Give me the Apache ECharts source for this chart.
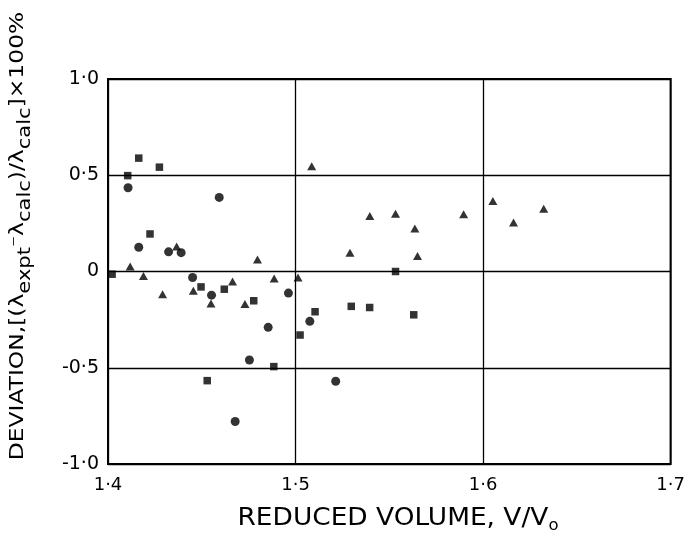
<!DOCTYPE html>
<html>
<head>
<meta charset="utf-8">
<script src="https://cdn.jsdelivr.net/npm/echarts@6/dist/echarts.min.js"></script>
<style>
  html, body { margin: 0; padding: 0; background: #fff; }
  #chart { width: 688px; height: 538px; }
</style>
</head>
<body>
<div id="chart"></div>
<script>
// reduced volume V/V0 vs deviation (%)
const circles = [
  [1.4107, 0.435], [1.4593, 0.385], [1.4164, 0.126], [1.4323, 0.102], [1.4390, 0.098],
  [1.4451, -0.031], [1.4552, -0.123], [1.4962, -0.112], [1.4854, -0.290], [1.4754, -0.460],
  [1.4678, -0.779], [1.5076, -0.259], [1.5214, -0.570]
]
const squares = [
  [1.4022, -0.014], [1.4105, 0.498], [1.4164, 0.589], [1.4274, 0.542], [1.4224, 0.195],
  [1.4496, -0.080], [1.4620, -0.092], [1.4777, -0.152], [1.4884, -0.494], [1.4529, -0.567],
  [1.5024, -0.330], [1.5104, -0.209], [1.5533, 0.000], [1.5297, -0.181], [1.5395, -0.187],
  [1.5630, -0.225]
]
const triangles = [
  [1.4118, 0.026], [1.4189, -0.023], [1.4291, -0.118], [1.4366, 0.130], [1.4455, -0.100],
  [1.4549, -0.166], [1.4664, -0.052], [1.4730, -0.169], [1.4797, 0.062], [1.4886, -0.036],
  [1.5013, -0.031], [1.5086, 0.547], [1.5290, 0.098], [1.5396, 0.288], [1.5533, 0.300],
  [1.5636, 0.224], [1.5650, 0.081], [1.5896, 0.297], [1.6052, 0.366], [1.6162, 0.254],
  [1.6323, 0.326]
]
const xTicks = [1.4, 1.5, 1.6, 1.7]
const yTicks = [-1.0, -0.5, 0, 0.5, 1.0]

const font = 'DejaVu Sans, sans-serif'

function tickLabel(v) {
  if (Math.abs(v) < 1e-9) return '0'
  return v.toFixed(1).replace('.', '·')
}

const chart = echarts.init(document.getElementById('chart'))

chart.setOption({
  backgroundColor: '#fff',
  animation: false,
  grid: {
    left: 108, right: 15, top: 79, bottom: 74,
    show: true, borderColor: '#000', borderWidth: 2, backgroundColor: 'transparent'
  },
  xAxis: {
    type: 'value',
    min: xTicks[0], max: xTicks[xTicks.length - 1], interval: 0.1,
    axisLine: { show: false },
    axisTick: { show: false },
    splitLine: { lineStyle: { color: '#000', width: 1.3 } },
    axisLabel: { color: '#000', fontFamily: font, fontSize: 18, margin: 12, formatter: tickLabel }
  },
  yAxis: {
    type: 'value',
    min: yTicks[0], max: yTicks[yTicks.length - 1], interval: 0.5,
    axisLine: { show: false },
    axisTick: { show: false },
    splitLine: { lineStyle: { color: '#000', width: 1.3 } },
    axisLabel: { color: '#000', fontFamily: font, fontSize: 19, margin: 9, formatter: tickLabel }
  },
  graphic: [{
    // y axis title, reads bottom to top
    type: 'text',
    x: 18, y: 236,
    rotation: Math.PI / 2,
    scaleX: 1.17,
    style: {
      text: '{a|DEVIATION,[(λ}{s|expt}{p|⁻}{a|λ}{s|calc}{a|)/λ}{s|calc}{a|]×100%}',
      align: 'center',
      verticalAlign: 'middle',
      rich: {
        a: { fill: '#000', fontFamily: font, fontSize: 20 },
        s: { fill: '#000', fontFamily: font, fontSize: 18, padding: [14, 0, 0, 0] },
        p: { fill: '#000', fontFamily: font, fontSize: 18 }
      }
    }
  }, {
    // x axis title
    type: 'text',
    x: 398, y: 519,
    scaleX: 1.1,
    style: {
      text: '{a|REDUCED VOLUME, V/V}{s|o}',
      align: 'center',
      verticalAlign: 'middle',
      rich: {
        a: { fill: '#000', fontFamily: font, fontSize: 24 },
        s: { fill: '#000', fontFamily: font, fontSize: 15, padding: [14, 0, 0, 0] }
      }
    }
  }],
  series: [
    { name: 'circles', type: 'scatter', symbol: 'circle', symbolSize: 9,
      itemStyle: { color: '#000' }, data: circles },
    { name: 'squares', type: 'scatter', symbol: 'rect', symbolSize: 7.5,
      itemStyle: { color: '#000' }, data: squares },
    { name: 'triangles', type: 'scatter', symbol: 'triangle', symbolSize: [9, 8],
      itemStyle: { color: '#000' }, data: triangles }
  ]
})
</script>
</body>
</html>
